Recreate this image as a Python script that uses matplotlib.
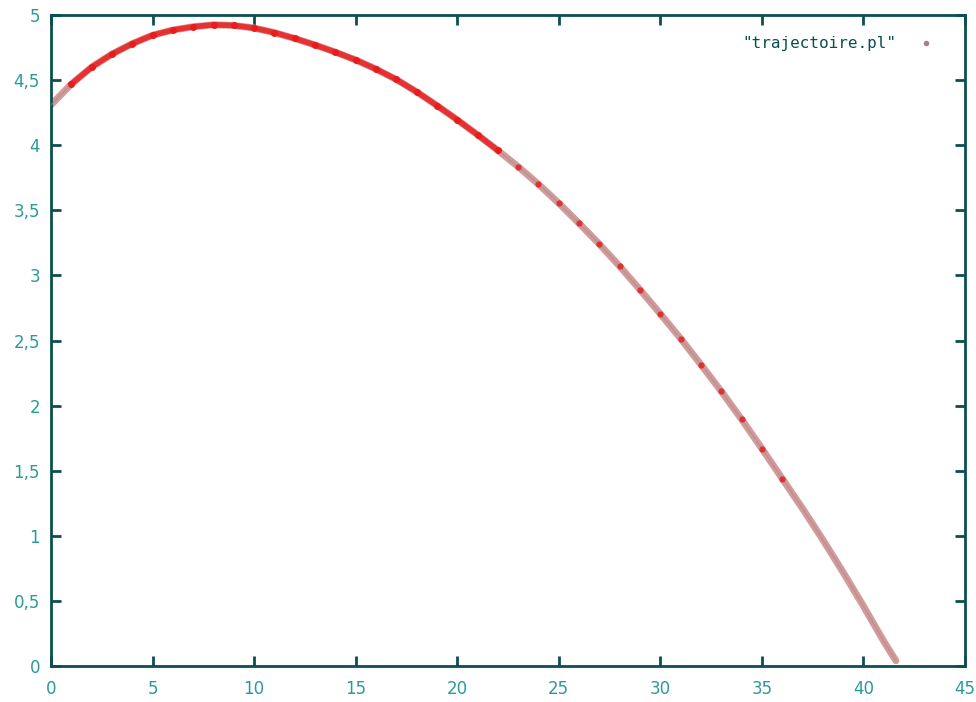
import matplotlib.pyplot as plt
from matplotlib.ticker import FuncFormatter

# trajectory points
x = [0, 1, 2, 3, 4, 5, 6, 7, 8, 9, 10, 11, 12, 13, 14, 15, 16, 17, 18, 19, 20,
     21, 22, 23, 24, 25, 26, 27, 28, 29, 30, 31, 32, 33, 34, 35, 36, 37, 38,
     39, 40, 41, 41.6]
y = [4.31, 4.47, 4.60, 4.70, 4.78, 4.845, 4.885, 4.91, 4.925, 4.92, 4.90,
     4.865, 4.82, 4.77, 4.715, 4.655, 4.585, 4.505, 4.41, 4.305, 4.195, 4.08,
     3.96, 3.835, 3.70, 3.555, 3.40, 3.24, 3.07, 2.89, 2.705, 2.515, 2.315,
     2.11, 1.895, 1.67, 1.44, 1.21, 0.97, 0.72, 0.46, 0.19, 0.04]
label = '"trajectoire.pl"'

axis_col = '#0b4f4f'
tick_col = '#2a9a9a'

fig = plt.figure(figsize=(9.76, 7.02), dpi=100)
ax = fig.add_axes([0.0523, 0.0513, 0.9364, 0.9273])

# thick pinkish trace, dense red points on the first part
ax.plot(x, y, color='#d49a9a', lw=5, solid_capstyle='round', zorder=2)
ax.plot(x, y, color='#9a8a8a', lw=1, alpha=0.5, zorder=3)
ax.plot(x[1:23], y[1:23], color='#ec2020', lw=4, alpha=0.85, zorder=4)
ax.plot(x[1:23], y[1:23], 'o', color='#e81c1c', ms=5, mew=0, zorder=4)
ax.plot(x[23:37], y[23:37], 'o', color='#dc2424', ms=4.5, mew=0, alpha=0.85, zorder=4)

ax.set_xlim(0, 45)
ax.set_ylim(0, 5)
ax.set_xticks(range(0, 46, 5))
ax.set_yticks([0, 0.5, 1, 1.5, 2, 2.5, 3, 3.5, 4, 4.5, 5])
ax.yaxis.set_major_formatter(FuncFormatter(lambda v, p: ('%g' % v).replace('.', ',')))

for s in ax.spines.values():
    s.set_color(axis_col)
    s.set_linewidth(2)
ax.tick_params(direction='in', length=7, width=2, color=axis_col,
               labelcolor=tick_col, labelsize=12, top=True, right=True,
               pad=8)
ax.tick_params(axis='x', pad=10)

# legend in gnuplot style
ax.text(0.925, 0.957, label, transform=ax.transAxes, ha='right', va='center',
        family='DejaVu Sans Mono', fontsize=11.5, color=axis_col)
ax.plot([0.957], [0.957], 'o', transform=ax.transAxes, color='#b07a8a',
        ms=4, mew=0)

plt.savefig('out.png', dpi=100)
